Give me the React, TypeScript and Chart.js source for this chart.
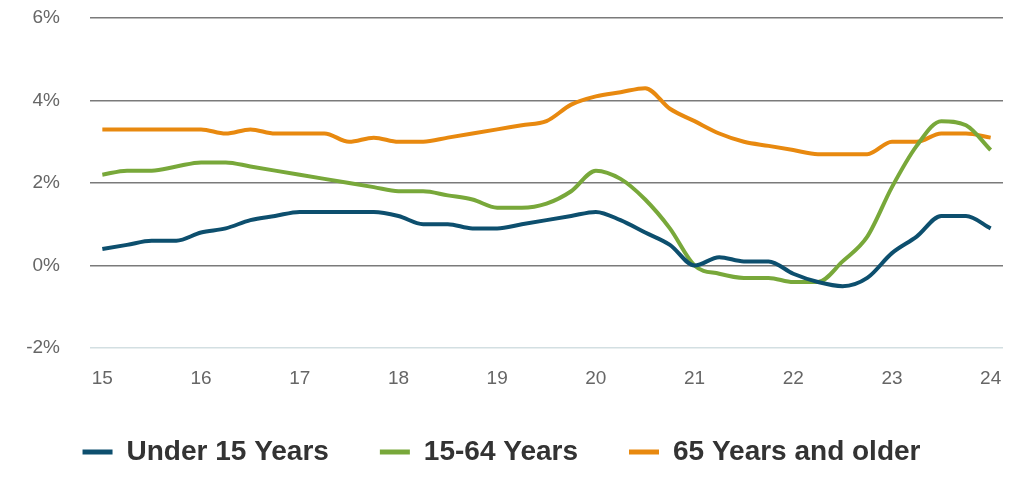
import React, { useEffect, useRef } from "react";
import { Chart, registerables } from "chart.js";

Chart.register(...registerables);

// Quarterly points from 2015 to 2024 (x in years, two-digit)
const quarters: number[] = [
  15, 15.25, 15.5, 15.75, 16, 16.25, 16.5, 16.75, 17, 17.25, 17.5, 17.75,
  18, 18.25, 18.5, 18.75, 19, 19.25, 19.5, 19.75, 20, 20.25, 20.5, 20.75,
  21, 21.25, 21.5, 21.75, 22, 22.25, 22.5, 22.75, 23, 23.25, 23.5, 23.75, 24,
];

const under15: number[] = [
  0.4, 0.5, 0.6, 0.6, 0.8, 0.9, 1.1, 1.2, 1.3, 1.3, 1.3, 1.3,
  1.2, 1.0, 1.0, 0.9, 0.9, 1.0, 1.1, 1.2, 1.3, 1.1, 0.8, 0.5,
  0.0, 0.2, 0.1, 0.1, -0.2, -0.4, -0.5, -0.3, 0.3, 0.7, 1.2, 1.2, 0.9,
];

const age15to64: number[] = [
  2.2, 2.3, 2.3, 2.4, 2.5, 2.5, 2.4, 2.3, 2.2, 2.1, 2.0, 1.9,
  1.8, 1.8, 1.7, 1.6, 1.4, 1.4, 1.5, 1.8, 2.3, 2.1, 1.6, 0.9,
  0.0, -0.2, -0.3, -0.3, -0.4, -0.4, 0.1, 0.7, 1.9, 2.9, 3.5, 3.4, 2.8,
];

const over65: number[] = [
  3.3, 3.3, 3.3, 3.3, 3.3, 3.2, 3.3, 3.2, 3.2, 3.2, 3.0, 3.1,
  3.0, 3.0, 3.1, 3.2, 3.3, 3.4, 3.5, 3.9, 4.1, 4.2, 4.3, 3.8,
  3.5, 3.2, 3.0, 2.9, 2.8, 2.7, 2.7, 2.7, 3.0, 3.0, 3.2, 3.2, 3.1,
];

const seriesNames: string[] = ["Under 15 Years", "15-64 Years", "65 Years and older"];
const seriesColors: string[] = ["#0d4f6e", "#78a83a", "#e8890f"];
const xTickYears: number[] = [15, 16, 17, 18, 19, 20, 21, 22, 23, 24];
const yTicks: number[] = [-2, 0, 2, 4, 6];

export default function App() {
  const canvasRef = useRef<HTMLCanvasElement | null>(null);

  useEffect(() => {
    if (!canvasRef.current) return;
    const series = [under15, age15to64, over65];
    const chart = new Chart(canvasRef.current, {
      type: "line",
      data: {
        datasets: series.map((vals, i) => ({
          label: seriesNames[i],
          data: vals.map((v, j) => ({ x: quarters[j], y: v })),
          borderColor: seriesColors[i],
          backgroundColor: seriesColors[i],
          borderWidth: 4,
          pointRadius: 0,
          cubicInterpolationMode: "monotone" as const,
          fill: false,
        })),
      },
      options: {
        animation: false,
        responsive: true,
        maintainAspectRatio: false,
        layout: { padding: { left: 0, right: 21, top: 18, bottom: 25 } },
        plugins: {
          tooltip: { enabled: false },
          legend: {
            position: "bottom",
            labels: {
              boxWidth: 30,
              boxHeight: 5,
              padding: 51,
              color: "#333333",
              font: { family: "'Liberation Sans', Arial, sans-serif", size: 28, weight: "bold" },
              generateLabels: (c: any) =>
                Chart.defaults.plugins.legend.labels
                  .generateLabels(c)
                  .map((item: any) => ({ ...item, lineWidth: 0 })),
            },
          },
        },
        scales: {
          x: {
            type: "linear",
            min: 14.875,
            max: 24.125,
            afterBuildTicks: (axis: any) => {
              axis.ticks = xTickYears.map((v) => ({ value: v }));
            },
            afterFit: (axis: any) => {
              axis.height = 39;
              axis.paddingLeft = 0;
              axis.paddingRight = 0;
            },
            grid: { display: false, drawTicks: false },
            border: { display: false },
            ticks: {
              padding: 19,
              color: "#666666",
              maxRotation: 0,
              autoSkip: false,
              font: { family: "'Liberation Sans', Arial, sans-serif", size: 19 },
              callback: (v: any) => String(v),
            },
          },
          y: {
            min: -2,
            max: 6,
            afterBuildTicks: (axis: any) => {
              axis.ticks = yTicks.map((v) => ({ value: v }));
            },
            afterFit: (axis: any) => {
              axis.width = 90;
              axis.paddingTop = 0;
              axis.paddingBottom = 0;
            },
            grid: {
              drawTicks: false,
              lineWidth: 1.5,
              color: (ctx: any) => (ctx.tick && ctx.tick.value === -2 ? "#d3dfe2" : "#7a7a7a"),
            },
            border: { display: false },
            ticks: {
              padding: 30,
              color: "#666666",
              font: { family: "'Liberation Sans', Arial, sans-serif", size: 19 },
              callback: (v: any) => v + "%",
            },
          },
        },
      },
    });
    return () => chart.destroy();
  }, []);

  return (
    <div style={{ position: "fixed", left: 0, top: 0, width: 1024, height: 501, background: "#ffffff" }}>
      <canvas ref={canvasRef} />
    </div>
  );
}
